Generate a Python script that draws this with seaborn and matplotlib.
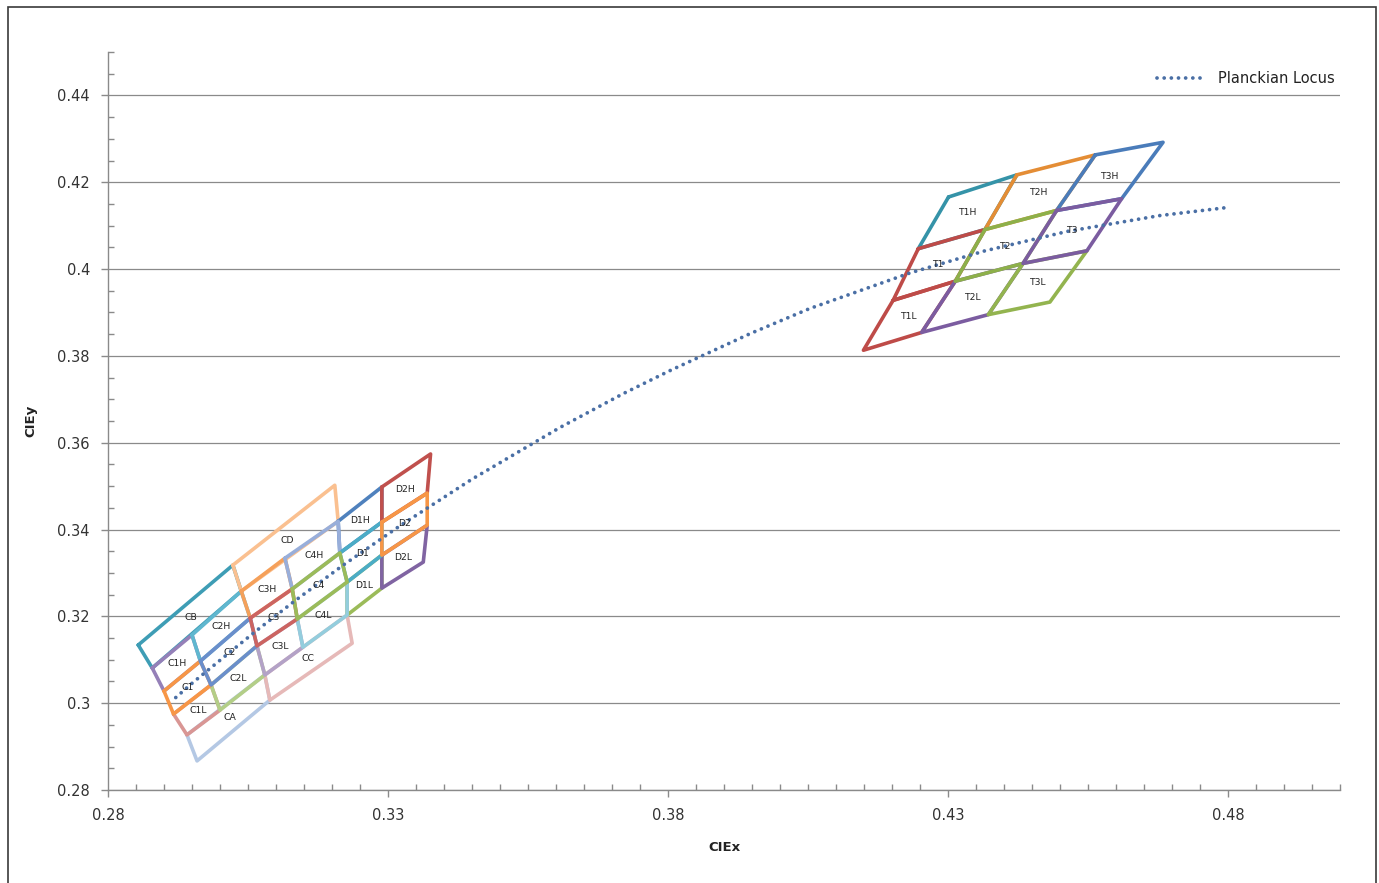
import numpy as np
import pandas as pd
import seaborn as sns
import matplotlib
matplotlib.use("Agg")
import matplotlib.pyplot as plt
from matplotlib.ticker import MultipleLocator
from matplotlib.patches import Rectangle

# lower-left cluster: grid corners (row = from top edge down, col = left to right)
c_x = [
    [0.2854, None, 0.3023, None, 0.3205, None, None],
    [0.2879, 0.2950, 0.3038, 0.3116, 0.3211, 0.3289, 0.3376],
    [0.2900, 0.2965, 0.3054, 0.3129, 0.3214, 0.3289, 0.3370],
    [0.2917, 0.2984, 0.3066, 0.3138, 0.3227, 0.3289, 0.3370],
    [0.2941, 0.3000, 0.3080, 0.3148, 0.3227, 0.3289, 0.3363],
    [0.2959, None, 0.3089, None, 0.3236, None, None],
]
c_y = [
    [0.3134, None, 0.3318, None, 0.3502, None, None],
    [0.3081, 0.3157, 0.3258, 0.3334, 0.3419, 0.3498, 0.3574],
    [0.3028, 0.3097, 0.3196, 0.3263, 0.3346, 0.3417, 0.3484],
    [0.2975, 0.3042, 0.3132, 0.3194, 0.3279, 0.3341, 0.3410],
    [0.2927, 0.2984, 0.3065, 0.3129, 0.3203, 0.3265, 0.3325],
    [0.2867, None, 0.3007, None, 0.3138, None, None],
]
c_sub_labels = [
    ["C1H", "C2H", "C3H", "C4H", "D1H", "D2H"],
    ["C1", "C2", "C3", "C4", "D1", "D2"],
    ["C1L", "C2L", "C3L", "C4L", "D1L", "D2L"],
]
# big bins: name -> (row0, row1, col0, col1)
c_big = {"CB": (0, 1, 0, 2), "CD": (0, 1, 2, 4), "CA": (4, 5, 0, 2), "CC": (4, 5, 2, 4)}

# upper-right cluster
t_x = [
    [0.4301, 0.4423, 0.4563, 0.4684],
    [0.4247, 0.4366, 0.4494, 0.4610],
    [0.4202, 0.4313, 0.4434, 0.4548],
    [0.4149, 0.4253, 0.4372, 0.4482],
]
t_y = [
    [0.4166, 0.4217, 0.4263, 0.4292],
    [0.4047, 0.4091, 0.4135, 0.4162],
    [0.3928, 0.3972, 0.4013, 0.4042],
    [0.3813, 0.3854, 0.3895, 0.3924],
]
t_labels = [
    ["T1H", "T2H", "T3H"],
    ["T1", "T2", "T3"],
    ["T1L", "T2L", "T3L"],
]

# Planckian locus
pl_x = [0.2921, 0.2952, 0.3004, 0.3064, 0.3135, 0.3220, 0.3323, 0.3450, 0.3607,
        0.3720, 0.3805, 0.3948, 0.4053, 0.4232, 0.4366, 0.4514, 0.4677, 0.4800]
pl_y = [0.3013, 0.3048, 0.3103, 0.3166, 0.3237, 0.3318, 0.3410, 0.3516, 0.3635,
        0.3713, 0.3767, 0.3852, 0.3909, 0.3991, 0.4042, 0.4087, 0.4123, 0.4142]

x_ticks = [0.28, 0.33, 0.38, 0.43, 0.48]
x_tick_labels = ["0.28", "0.33", "0.38", "0.43", "0.48"]
y_ticks = [0.28, 0.30, 0.32, 0.34, 0.36, 0.38, 0.40, 0.42, 0.44]
y_tick_labels = ["0.28", "0.3", "0.32", "0.34", "0.36", "0.38", "0.4", "0.42", "0.44"]

colors = {
    "CB": "#3E9DB5", "CA": "#B4C8E4", "CD": "#FAC090", "CC": "#E6B9B8",
    "C1H": "#9580B8", "C2H": "#5FB7CF", "C3H": "#F5A05A", "C4H": "#98AEDA",
    "D1H": "#4F81BD", "D2H": "#C0504D",
    "C1": "#F79646", "C2": "#6A8ECB", "C3": "#CC6461", "C4": "#9BBB59",
    "D1": "#4BACC6", "D2": "#F79646",
    "C1L": "#D99694", "C2L": "#B3CE87", "C3L": "#B3A2C7", "C4L": "#93CDDD",
    "D1L": "#9BBB59", "D2L": "#8064A2",
    "T1H": "#3593A8", "T2H": "#E48D35", "T3H": "#4A7CBA",
    "T1": "#BE4B48", "T2": "#8DB04A", "T3": "#7B5CA0",
    "T1L": "#BE4B48", "T2L": "#7B5CA0", "T3L": "#93B44F",
}
draw_order = ["CB", "CA", "CD", "CC",
              "D1H", "C1H", "C2H", "C3H", "C4H", "D2H",
              "D1L", "C1L", "C2L", "C3L", "C4L", "D2L",
              "D1", "C1", "C2", "C3", "C4", "D2",
              "T1H", "T1L", "T2H", "T3H", "T1", "T2L", "T3L", "T2", "T3"]


def cell(xs, ys, r0, r1, c0, c1):
    idx = [(r0, c0), (r0, c1), (r1, c1), (r1, c0), (r0, c0)]
    return [(xs[r][c], ys[r][c]) for r, c in idx]


polys = {}
for name, (r0, r1, c0, c1) in c_big.items():
    polys[name] = cell(c_x, c_y, r0, r1, c0, c1)
for r, row in enumerate(c_sub_labels):
    for c, name in enumerate(row):
        polys[name] = cell(c_x, c_y, r + 1, r + 2, c, c + 1)
for r, row in enumerate(t_labels):
    for c, name in enumerate(row):
        polys[name] = cell(t_x, t_y, r, r + 1, c, c + 1)

recs = []
for name, pts in polys.items():
    for i, (x, y) in enumerate(pts):
        recs.append({"bin": name, "i": i, "x": x, "y": y})
df = pd.DataFrame(recs)

sns.set_theme(style="white")
plt.rcParams["font.family"] = ["DejaVu Sans"]

fig = plt.figure(figsize=(13.79, 8.83), dpi=100)
ax = fig.add_axes([108 / 1379, 93 / 883, 1232 / 1379, 738 / 883])

sns.lineplot(data=df, x="x", y="y", hue="bin", hue_order=draw_order, palette=colors,
             sort=False, estimator=None, legend=False, linewidth=2.6, ax=ax,
             solid_joinstyle="round", solid_capstyle="round")

sns.lineplot(x=pl_x, y=pl_y, sort=False, estimator=None, color="#4A6FA5",
             linewidth=2.7, linestyle=(0, (0.01, 1.9)), dash_capstyle="round",
             label="Planckian Locus", ax=ax)

for name, pts in polys.items():
    cx = np.mean([p[0] for p in pts[:4]])
    cy = np.mean([p[1] for p in pts[:4]])
    ax.text(cx, cy, name, fontsize=6.7, ha="center", va="center", color="#222222")

ax.set_xlim(0.28, 0.50)
ax.set_ylim(0.28, 0.45)
ax.set_xticks(x_ticks)
ax.set_xticklabels(x_tick_labels)
ax.set_yticks(y_ticks)
ax.set_yticklabels(y_tick_labels)
ax.xaxis.set_minor_locator(MultipleLocator(0.005))
ax.yaxis.set_minor_locator(MultipleLocator(0.005))

ax.grid(axis="y", which="major", color="#8a8a8a", linewidth=0.9)
ax.grid(axis="x", visible=False)
ax.set_axisbelow(True)
for s in ["top", "right"]:
    ax.spines[s].set_visible(False)
for s in ["left", "bottom"]:
    ax.spines[s].set_color("#8a8a8a")
    ax.spines[s].set_linewidth(1.0)

ax.tick_params(which="major", direction="out", length=5, width=1, color="#8a8a8a",
               bottom=True, left=True, labelsize=10.5, labelcolor="#333333", pad=8)
ax.tick_params(which="minor", direction="in", length=4, width=1, color="#8a8a8a",
               bottom=True, left=True)

ax.set_xlabel("CIEx", fontsize=9.5, fontweight="bold", color="#222222", labelpad=13)
ax.set_ylabel("CIEy", fontsize=9.5, fontweight="bold", color="#222222", labelpad=14)

leg = ax.legend(loc="upper right", frameon=False, fontsize=10.5, handlelength=3.4,
                borderaxespad=0.3, bbox_to_anchor=(1.004, 0.988))
for t in leg.get_texts():
    t.set_color("#222222")

fig.add_artist(Rectangle((8 / 1379, -0.01), 1376 / 1379 - 8 / 1379, 1.01 - 7 / 883,
                         transform=fig.transFigure, fill=False,
                         edgecolor="#3a3a3a", linewidth=1.2))

fig.savefig("out.png", dpi=100)
